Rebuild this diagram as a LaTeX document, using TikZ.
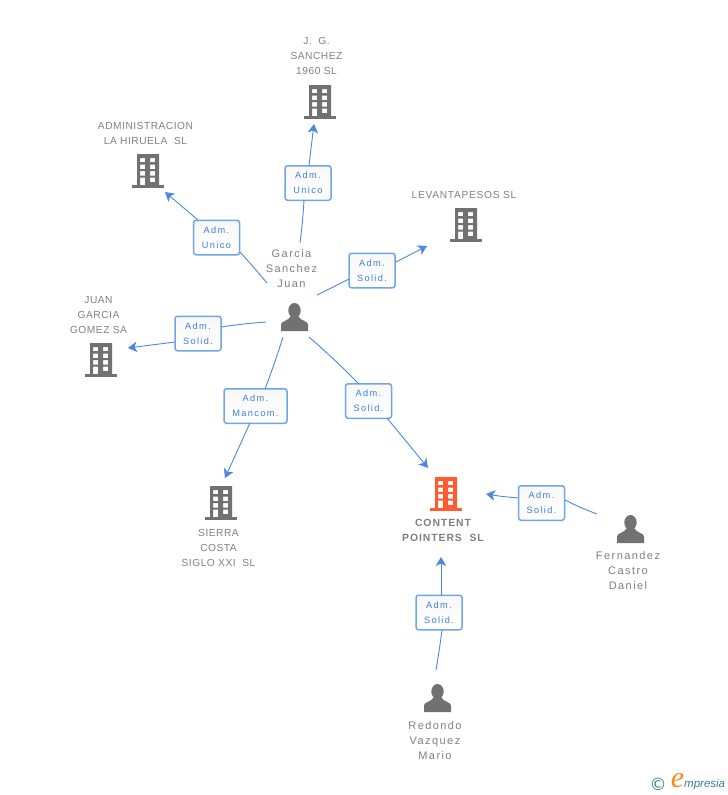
\documentclass[tikz,border=0pt]{standalone}
\usepackage{fontspec}
\setmainfont{Liberation Sans}
\newfontfamily\spacedfont[LetterSpace=5]{Liberation Sans}
\newfontfamily\widespaced[LetterSpace=7]{Liberation Sans}
\newfontfamily\boldspaced[LetterSpace=9]{Liberation Sans}
\newfontfamily\namefont[LetterSpace=13]{Liberation Sans}
\newfontfamily\boxfont[LetterSpace=15]{Liberation Sans}
\newfontfamily\copyfont{DejaVu Sans}
\newfontfamily\logofont{Liberation Serif}
\usetikzlibrary{arrows.meta}
\definecolor{icongray}{HTML}{717171}
\definecolor{textgray}{HTML}{808080}
\definecolor{linkblue}{HTML}{4A88E2}
\definecolor{boxblue}{HTML}{6FA6EA}
\definecolor{labelblue}{HTML}{3A7EE0}
\definecolor{hotorange}{HTML}{FF5A30}
\definecolor{logoteal}{HTML}{3E7C96}
\definecolor{logoorange}{HTML}{F58A1F}
\tikzset{
  rolebox/.style={draw=boxblue,line width=1.5pt,rounded corners=2.5pt,top color=black!3,bottom color=white,minimum height=34.5pt,minimum width=46pt,inner sep=0pt,align=center,text=labelblue,font=\boxfont\fontsize{9.2}{15}\selectfont},
  captext/.style={align=center,text=textgray,inner sep=0pt,font=\spacedfont\fontsize{10.2}{15}\selectfont},
  nametext/.style={align=center,text=textgray,inner sep=0pt,font=\namefont\fontsize{11}{15}\selectfont},
  linkline/.style={draw=linkblue,line width=0.9pt},
  arrowlink/.style={linkline,-{Stealth[length=9pt,width=10.5pt,inset=2.5pt]}},
  iconanchor/.style={inner sep=0pt,minimum size=1pt}
}
\newcommand{\bldg}[3]{%
  \node[iconanchor] (#1) at (#2) {};
  \begin{scope}[shift={(#2)}]
    \fill[#3,even odd rule] (-11,-17) rectangle (11,14.5)
      (-8,-13) rectangle (-3,-9) (2,-13) rectangle (7,-9)
      (-8,-6.5) rectangle (-3,-2) (2,-6.5) rectangle (7,-2)
      (-8,0) rectangle (-3,4.5) (2,0) rectangle (7,4.5)
      (-8,6.5) rectangle (-3,14.5) (2,6.5) rectangle (7,11);
    \fill[#3] (-16,14) rectangle (16,16.7);
  \end{scope}}
\newcommand{\persona}[2]{%
  \node[iconanchor] (#1) at (#2) {};
  \begin{scope}[shift={(#2)}]
    \fill[icongray] (0,-6.5) ellipse (6.2 and 7.5);
    \fill[icongray] (-13.5,14) -- (-13.5,7.5) .. controls (-13.5,4) and (-6,4) .. (-3.5,-1)
      -- (3.5,-1) .. controls (6,4) and (13.5,4) .. (13.5,7.5) -- (13.5,14) -- cycle;
  \end{scope}}
\begin{document}
\begin{tikzpicture}[x=1pt,y=-1pt]
\useasboundingbox (0,0) rectangle (728,795);
\fill[white] (0,0) rectangle (728,795);

% icons
\bldg{jg}{320,102}{icongray}
\bldg{adminb}{148,171}{icongray}
\bldg{levant}{466,225}{icongray}
\bldg{juan}{101,360}{icongray}
\bldg{sierra}{221,503}{icongray}
\bldg{content}{446,494}{hotorange}
\persona{garcia}{294.5,317}
\persona{fernandez}{630.5,529}
\persona{redondo}{437.5,698}

% captions
\node[captext] (capjg) at (316.5,56) {J.\ \ G.\\SANCHEZ\\1960 SL};
\node[captext] (capadmin) at (145.5,133) {ADMINISTRACION\\LA HIRUELA\ \ SL};
\node[captext,font=\widespaced\fontsize{10.2}{15}\selectfont] (caplevant) at (464,194.5) {LEVANTAPESOS SL};
\node[captext] (capjuan) at (98.5,315) {JUAN\\GARCIA\\GOMEZ SA};
\node[captext] (capsierra) at (218.5,547.5) {SIERRA\\COSTA\\SIGLO XXI\ \ SL};
\node[captext,font=\boldspaced\bfseries\fontsize{10.4}{15}\selectfont] (capcontent) at (443,530) {CONTENT\\POINTERS\ \ SL};
\node[nametext] (capgarcia) at (291.5,269) {Garcia\\Sanchez\\Juan};
\node[nametext] (capfern) at (628,571) {Fernandez\\Castro\\Daniel};
\node[nametext] (capred) at (435,741) {Redondo\\Vazquez\\Mario};

% role boxes
\node[rolebox] (r1) at (308,183) {Adm.\\Unico};
\node[rolebox] (r2) at (216.5,237.5) {Adm.\\Unico};
\node[rolebox] (r3) at (372,270.5) {Adm.\\Solid.};
\node[rolebox] (r4) at (198,333.5) {Adm.\\Solid.};
\node[rolebox,minimum width=63pt] (r5) at (255.5,406) {Adm.\\Mancom.};
\node[rolebox] (r6) at (368.5,401) {Adm.\\Solid.};
\node[rolebox] (r7) at (541.5,503) {Adm.\\Solid.};
\node[rolebox] (r8) at (439,612.5) {Adm.\\Solid.};

% free ends
\coordinate (a1s) at (300,243); \coordinate (a1e) at (314,124);
\coordinate (a2s) at (267,283); \coordinate (a2e) at (165,192);
\coordinate (a3s) at (317,295); \coordinate (a3e) at (427,246);
\coordinate (a4s) at (266,322); \coordinate (a4e) at (128,348);
\coordinate (a5s) at (283,337); \coordinate (a5e) at (225,478);
\coordinate (a6s) at (309,337); \coordinate (a6e) at (428,468);
\coordinate (a7s) at (597,514); \coordinate (a7e) at (486,494);
\coordinate (a8s) at (436,670); \coordinate (a8e) at (441,557);
\coordinate (b1) at (304,200); \coordinate (c1) at (309,165);
\coordinate (b2) at (240,252); \coordinate (c2) at (198,220);
\coordinate (b3) at (349,279); \coordinate (c3) at (396,262);
\coordinate (b4) at (221,327); \coordinate (c4) at (175,342);
\coordinate (b5) at (265,389); \coordinate (c5) at (250,423);
\coordinate (b6) at (359,384); \coordinate (c6) at (387,418);
\coordinate (b7) at (565,500); \coordinate (c7) at (518,498);
\coordinate (b8) at (442,630); \coordinate (c8) at (441,595);

% connectors
\draw[linkline] (a1s) to[bend right=2] (b1);
\draw[arrowlink] (c1) -- (a1e);
\draw[linkline] (a2s) to[bend right=1] (b2);
\draw[arrowlink] (c2) -- (a2e);
\draw[linkline] (a3s) -- (b3);
\draw[arrowlink] (c3) -- (a3e);
\draw[linkline] (a4s) to[bend right=2] (b4);
\draw[arrowlink] (c4) -- (a4e);
\draw[linkline] (a5s) to[bend left=1.5] (b5);
\draw[arrowlink] (c5) -- (a5e);
\draw[linkline] (a6s) to[bend left=2] (b6);
\draw[arrowlink] (c6) -- (a6e);
\draw[linkline] (a7s) to[bend left=3] (b7);
\draw[arrowlink] (c7) to[bend left=2] (a7e);
\draw[linkline] (a8s) to[bend right=1] (b8);
\draw[arrowlink] (c8) -- (a8e);

% logo
\node[inner sep=0pt,text=logoteal,font=\copyfont\fontsize{17}{17}\selectfont] (copy) at (658,784) {©};
\node[inner sep=0pt,text=logoorange,font=\logofont\itshape\fontsize{30}{30}\selectfont] (logoe) at (677.5,781) {e};
\node[inner sep=0pt,anchor=west,text=logoteal,font=\itshape\fontsize{11.5}{11.5}\selectfont] (logot) at (684,785) {mpresia};
\end{tikzpicture}
\end{document}
